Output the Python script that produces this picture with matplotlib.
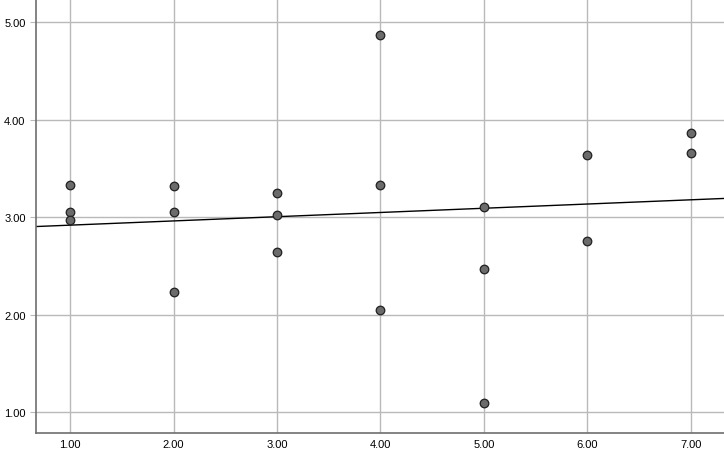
import numpy as np
import matplotlib
matplotlib.use("Agg")
from matplotlib import pyplot as plt

plt.rcParams['font.family'] = ['Liberation Sans', 'DejaVu Sans']

# data
x_vals = [1, 1, 1, 2, 2, 2, 3, 3, 3, 4, 4, 4, 5, 5, 5, 6, 6, 7, 7]
y_vals = [3.33, 3.05, 2.97, 3.32, 3.05, 2.23, 3.25, 3.02, 2.64,
          4.87, 3.33, 2.05, 3.10, 2.47, 1.09, 3.64, 2.75, 3.86, 3.66]
x_ticks = [1, 2, 3, 4, 5, 6, 7]
y_ticks = [1, 2, 3, 4, 5]

fig = plt.figure(figsize=(7.24, 4.56), dpi=100)
ax = fig.add_axes([0.0497, 0.048, 0.9503, 0.952])

ax.set_xlim(0.671, 7.32)
ax.set_ylim(0.785, 5.236)
ax.set_xticks(x_ticks)
ax.set_yticks(y_ticks)
ax.set_xticklabels(['%.2f' % t for t in x_ticks])
ax.set_yticklabels(['%.2f' % t for t in y_ticks])
ax.grid(True, color='#b9b9b9', linewidth=1)
ax.set_axisbelow(True)

for s in ['top', 'right']:
    ax.spines[s].set_visible(False)
for s in ['left', 'bottom']:
    ax.spines[s].set_color('#6e6e6e')
    ax.spines[s].set_linewidth(1.2)
ax.tick_params(axis='both', colors='#b9b9b9', labelcolor='black', labelsize=8, length=4)
ax.tick_params(axis='x', length=0, pad=4)

ax.scatter(x_vals, y_vals, s=38, facecolor='#6b6b6b', edgecolor='#202020', linewidth=0.9, zorder=3)

# linear fit line
b, a = np.polyfit(x_vals, y_vals, 1)
xx = np.array(ax.get_xlim())
ax.plot(xx, a + b * xx, color='black', linewidth=1, zorder=2)

fig.savefig('out.png', dpi=100)
